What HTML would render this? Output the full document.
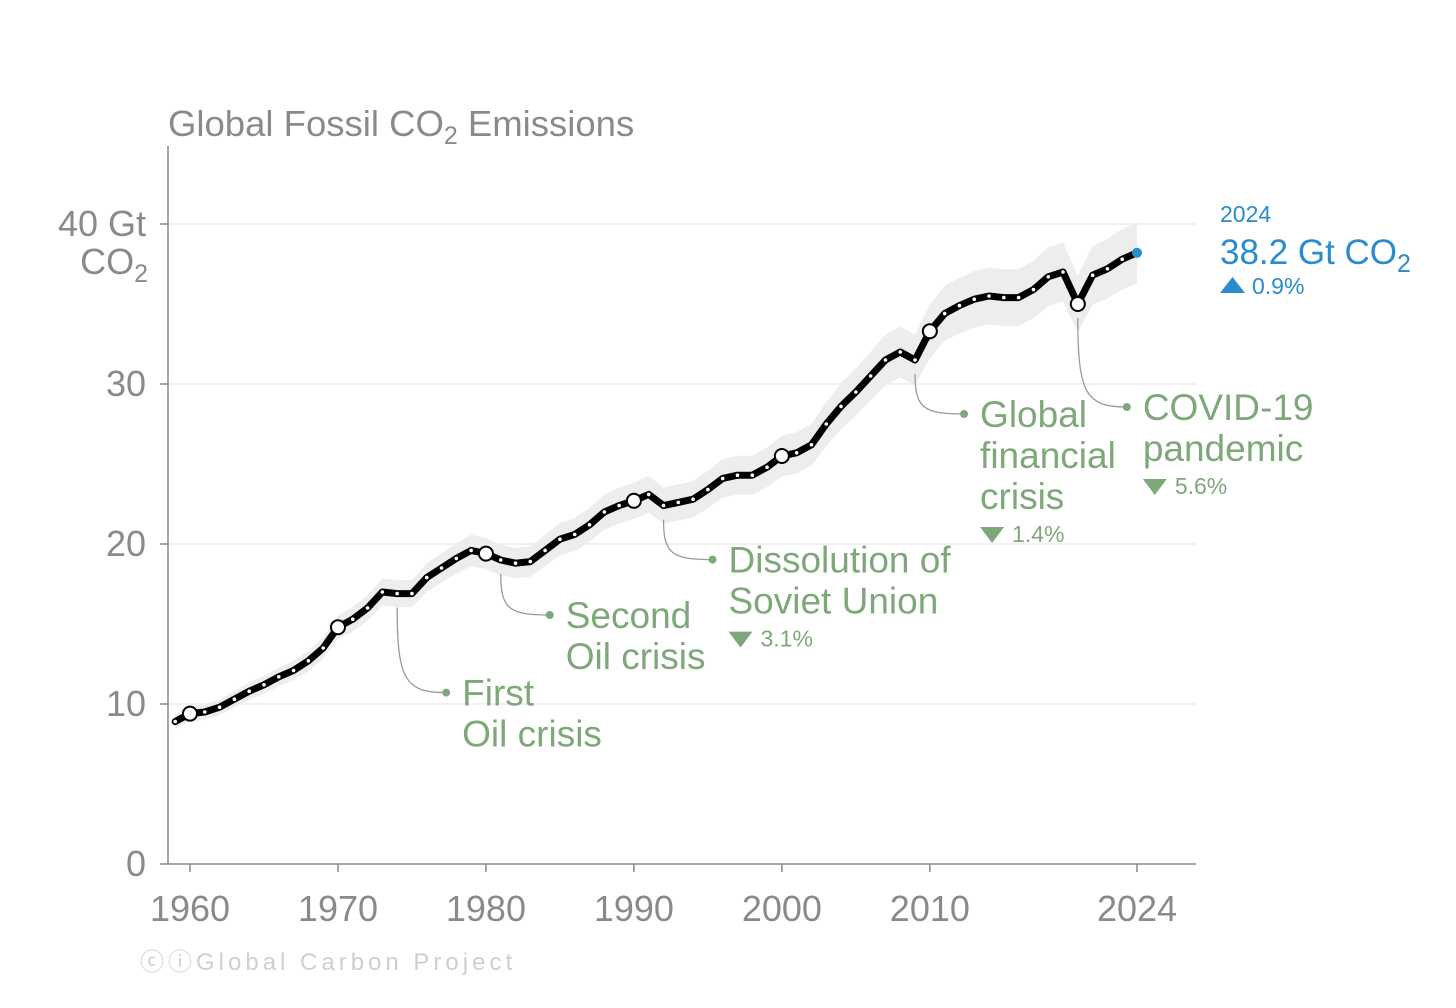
<!DOCTYPE html>
<html><head><meta charset="utf-8"><style>
html,body{margin:0;padding:0;background:#fff;}
svg{display:block;font-family:"Liberation Sans",Arial,sans-serif;}
</style></head><body>
<svg id="chart" width="1456" height="1008" viewBox="0 0 1456 1008">
<text x="168" y="136" font-size="36.5" fill="#8a8a8a">Global Fossil CO<tspan font-size="25" dy="8">2</tspan><tspan dy="-8"> Emissions</tspan></text>
<g id="grid"></g>
<g id="band"></g>
<g id="annos"></g>
<g id="line"></g>
<g id="xaxis"></g>
<g id="yaxis"></g>
<text x="1220" y="222" font-size="23" fill="#2a8ccc">2024</text>
<text x="1220" y="264" font-size="35" fill="#2a8ccc">38.2 Gt CO<tspan font-size="25" dy="8">2</tspan></text>
<path d="M1220 293 L1245 293 L1232.5 277 Z" fill="#2a8ccc"/>
<text x="1252" y="294" font-size="23" fill="#2a8ccc">0.9%</text>
<text x="140" y="970" font-size="24" fill="#cfcfcf" letter-spacing="4">ⓒⓘGlobal Carbon Project</text>
</svg>
<script>
const years=[1959,1960,1961,1962,1963,1964,1965,1966,1967,1968,1969,1970,1971,1972,1973,1974,1975,1976,1977,1978,1979,1980,1981,1982,1983,1984,1985,1986,1987,1988,1989,1990,1991,1992,1993,1994,1995,1996,1997,1998,1999,2000,2001,2002,2003,2004,2005,2006,2007,2008,2009,2010,2011,2012,2013,2014,2015,2016,2017,2018,2019,2020,2021,2022,2023,2024];
const emissions=[8.9,9.4,9.5,9.8,10.3,10.8,11.2,11.7,12.1,12.7,13.5,14.8,15.3,16.0,17.0,16.9,16.9,17.9,18.5,19.1,19.6,19.4,19.0,18.8,18.9,19.6,20.3,20.6,21.2,22.0,22.4,22.7,23.1,22.4,22.6,22.8,23.4,24.1,24.3,24.3,24.8,25.5,25.7,26.2,27.5,28.6,29.5,30.5,31.5,32.0,31.5,33.3,34.4,34.9,35.3,35.5,35.4,35.4,35.9,36.7,37.0,35.0,36.8,37.2,37.8,38.2];
const yTicks=[0,10,20,30,40];
const xTicks=[1960,1970,1980,1990,2000,2010,2024];
const circleYears=[1960,1970,1980,1990,2000,2010,2020];
const events=[
 {year:1974,drop:85,lines:["First","Oil crisis"],pct:null},
 {year:1981,drop:41,lines:["Second","Oil crisis"],pct:null},
 {year:1992,drop:40,lines:["Dissolution of","Soviet Union"],pct:"3.1%"},
 {year:2009,drop:40,lines:["Global","financial","crisis"],pct:"1.4%"},
 {year:2020,drop:89,lines:["COVID-19","pandemic"],pct:"5.6%"}
];
const NS="http://www.w3.org/2000/svg";
const X=y=>190+(y-1960)*(947/64);
const Y=v=>864-v*16;
function mk(tag,attrs,parent){const e=document.createElementNS(NS,tag);for(const k in attrs)e.setAttribute(k,attrs[k]);parent.appendChild(e);return e;}
const grid=document.getElementById('grid'),band=document.getElementById('band'),line=document.getElementById('line'),xa=document.getElementById('xaxis'),ya=document.getElementById('yaxis'),an=document.getElementById('annos');
yTicks.forEach(t=>{
 if(t>0){const g=mk('line',{x1:168,x2:1196,y1:Y(t),y2:Y(t),stroke:'#ececec','stroke-width':1.5},grid);
 
 }
 const tk=mk('line',{x1:160,x2:168,y1:Y(t),y2:Y(t),stroke:'#888','stroke-width':1.5},ya);
 
 
 if(t===40){
  const l=mk('text',{x:146,y:Y(t)+12,'font-size':36,fill:'#8a8a8a','text-anchor':'end'},ya);l.textContent='40 Gt';
  
  
  const l2=mk('text',{x:148,y:Y(t)+50,'font-size':36,fill:'#8a8a8a','text-anchor':'end'},ya);l2.innerHTML='CO<tspan font-size="25" dy="8">2</tspan>';
  
  
 } else {
  const l=mk('text',{x:146,y:Y(t)+12,'font-size':36,fill:'#8a8a8a','text-anchor':'end'},ya);l.textContent=t;
  
  
 }
});
const ax=mk('line',{x1:168,x2:168,y1:146,y2:864,stroke:'#888','stroke-width':1.5},ya);


const xl=mk('line',{x1:168,x2:1196,y1:864,y2:864,stroke:'#888','stroke-width':1.5},xa);


xTicks.forEach(t=>{
 const tk=mk('line',{x1:X(t),x2:X(t),y1:864,y2:872,stroke:'#888','stroke-width':1.5},xa);
 
 
 const l=mk('text',{x:X(t),y:921,'font-size':36,fill:'#8a8a8a','text-anchor':'middle'},xa);l.textContent=t;
 
 
});
let up=years.map((y,i)=>X(y)+','+Y(emissions[i]*1.05)).join(' ');
let dn=years.map((y,i)=>X(y)+','+Y(emissions[i]*0.95)).reverse().join(' ');
const bp=mk('polygon',{points:up+' '+dn,fill:'#ededed'},band);


events.forEach((ev,k)=>{
 const i=years.indexOf(ev.year);const x0=X(ev.year),y0=Y(emissions[i])+14;
 const x1=x0+49,y1=y0+ev.drop;
 const p=mk('path',{d:`M${x0} ${y0} C${x0} ${y0+(y1-y0)*0.85} ${x0+8} ${y1} ${x1} ${y1}`,fill:'none',stroke:'#9a9a9a','stroke-width':1.3},an);
 
 
 const d=mk('circle',{cx:x1,cy:y1,r:4,fill:'#7fa87a'},an);
 
 
 const tx=x1+16;
 ev.lines.forEach((s,j)=>{
  const t=mk('text',{x:tx,y:y1+13+j*41,'font-size':37,fill:'#7fa87a'},an);t.textContent=s;
  
  
 });
 if(ev.pct){
  const py=y1+12+ev.lines.length*41-8;
  const tri=mk('path',{d:`M${tx} ${py-14} L${tx+24} ${py-14} L${tx+12} ${py+2} Z`,fill:'#7fa87a'},an);
  
  
  const t=mk('text',{x:tx+32,y:py+1,'font-size':23,fill:'#7fa87a'},an);t.textContent=ev.pct;
  
  
 }
});
const pts=years.map((y,i)=>X(y)+','+Y(emissions[i])).join(' ');
const pl=mk('polyline',{points:pts,fill:'none',stroke:'#000','stroke-width':7,'stroke-linejoin':'round','stroke-linecap':'round'},line);


years.forEach((y,i)=>{
 if(i===years.length-1){
  const c=mk('circle',{cx:X(y),cy:Y(emissions[i]),r:5,fill:'#2a8ccc'},line);
  
  
 } else if(circleYears.includes(y)){
  const c=mk('circle',{cx:X(y),cy:Y(emissions[i]),r:7,fill:'#fff',stroke:'#000','stroke-width':2},line);
  
  
 } else {
  const c=mk('circle',{cx:X(y),cy:Y(emissions[i]),r:1.8,fill:'#fff'},line);
  
  
 }
});
</script>
</body></html>
